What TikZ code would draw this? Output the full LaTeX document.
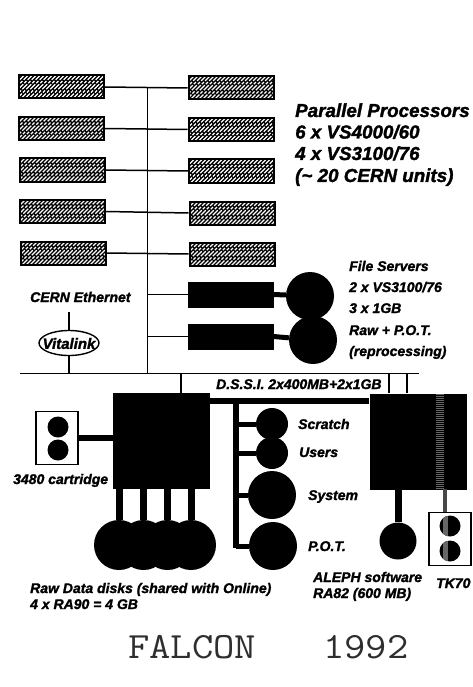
\documentclass[tikz,border=0pt]{standalone}
\usepackage{fontspec}
\usetikzlibrary{shapes.geometric}
\setmainfont{Liberation Sans}[BoldItalicFeatures={FakeBold=1.6}]
\begin{document}
\begin{tikzpicture}[x=1pt,y=-1pt,
  hbox/.style={draw=black,line width=2pt,fill=black,minimum width=85pt,minimum height=23pt,inner sep=0pt,
    path picture={
      \foreach \k in {-30,-26,...,110}{
        \draw[white,line width=1.25pt,dash pattern=on 7pt off 1.4pt on 3pt off 1.8pt] ([xshift=\k pt]path picture bounding box.south west) -- ++(30pt,30pt);
      }
    }},
  bbox/.style={fill=black,draw=black,inner sep=0pt,minimum width=85pt,minimum height=25pt},
  bigbox/.style={fill=black,inner sep=0pt,minimum width=97pt,minimum height=96pt},
  disk/.style={circle,fill=black,inner sep=0pt,minimum size=#1},
  tape/.style={draw=black,line width=1.2pt,fill=white,inner sep=0pt,minimum width=42pt,minimum height=53pt},
  cable/.style={line width=1.5pt,black},
  stub/.style={line width=5pt,black},
  heavy/.style={line width=6.5pt,black},
  greycable/.style={line width=4pt,black!72},
  lab/.style={anchor=base west,inner sep=0pt,text=black,font=\bfseries\itshape\fontsize{14}{14}\selectfont},
  labbig/.style={anchor=base west,inner sep=0pt,text=black,font=\bfseries\itshape\fontsize{18.8}{19}\selectfont},
  title/.style={anchor=base west,inner sep=0pt,text=black!82,xscale=1.12,font=\ttfamily\fontsize{37}{37}\selectfont}
]
\useasboundingbox (0,0) rectangle (472,687);
\fill[white] (0,0) rectangle (472,687);

% coordinates
\coordinate (busT) at (147.5,87);
\coordinate (lanW) at (20,373.5);
\coordinate (lanE) at (419,373.5);
\coordinate (ethTop) at (69,312);
\coordinate (dssiBot) at (236,548);
\coordinate (tapL) at (181,373.5);
\coordinate (tapR1) at (389,373.5);
\coordinate (tapR2) at (407,373.5);
\coordinate (dsT) at (236,401);
\coordinate (grT) at (445,489);
\coordinate (grB) at (440,489);

% processors
\node[hbox] (l1) at (61.5,87) {};
\node[hbox] (l2) at (61.5,128.5) {};
\node[hbox] (l3) at (62,170) {};
\node[hbox] (l4) at (62.5,211.5) {};
\node[hbox] (l5) at (63,253) {};
\node[hbox] (r1) at (231,88) {};
\node[hbox] (r2) at (231,129.5) {};
\node[hbox] (r3) at (231.5,171) {};
\node[hbox] (r4) at (232,213) {};
\node[hbox] (r5) at (232,254) {};
\node[bbox] (f1) at (231,294.5) {};
\node[bbox] (f2) at (231,336.5) {};

% file server disks
\node[disk=48pt] (d1) at (310,296) {};
\node[disk=48pt] (d2) at (313,340) {};

% Ethernet
\draw[cable] (busT) -- (busT |- lanW);
\draw[cable] (l1.east) -- (r1.west);
\draw[cable] (l2.east) -- (r2.west);
\draw[cable] (l3.east) -- (r3.west);
\draw[cable] (l4.east) -- (r4.west);
\draw[cable] (l5.east) -- (r5.west);
\draw[cable] (f1.west) -- (f1.west -| busT);
\draw[cable] (f2.west) -- (f2.west -| busT);
\draw[stub] (f1.east) -- (d1);
\draw[stub] (f2.east) -- (d2);
\draw[cable] (lanW) -- (lanE);

% Vitalink
\node[draw=black,line width=1.4pt,fill=white,ellipse,inner sep=0pt,minimum width=60pt,minimum height=25pt] (vit) at (69,343) {};
\node[inner sep=0pt,font=\bfseries\itshape\fontsize{15}{15}\selectfont] (vitt) at (69,343.5) {Vitalink};
\draw[cable] (ethTop) -- (vit.north);
\draw[cable] (vit.south) -- (vit.south |- lanW);

% main boxes
\node[bigbox] (vl) at (161.5,441) {};
\node[bigbox] (vr) at (418,441.5) {};
\draw[cable] (tapL) -- (tapL |- vl.north);
\draw[cable] (tapR1) -- (tapR1 |- vr.north);
\draw[cable] (tapR2) -- (tapR2 |- vr.north);

% D.S.S.I.
\draw[heavy] (dsT -| vl.east) -- (dsT -| vr.west);
\draw[heavy] (dsT) -- (dssiBot);

\node[disk=32pt] (scr) at (272,424) {};
\node[disk=32pt] (usr) at (272,453) {};
\node[disk=48pt] (sys) at (272,495) {};
\node[disk=48pt] (pot) at (273,546) {};
\draw[stub] (dsT |- scr) -- (scr);
\draw[stub] (dsT |- usr) -- (usr);
\draw[stub] (dsT |- sys) -- (sys);
\draw[stub] (dsT |- pot) -- (pot);

% 3480
\node[tape] (ct) at (57,438) {};
\node[disk=21pt] (c1) at (58,427) {};
\node[disk=21pt] (c2) at (58,450) {};
\draw[heavy] (ct.east) -- (ct.east -| vl.west);

% raw disks
\node[disk=50pt] (w1) at (119,545) {};
\node[disk=50pt] (w2) at (143.5,545) {};
\node[disk=50pt] (w3) at (167.5,545) {};
\node[disk=50pt] (w4) at (191,545) {};
\draw[line width=7pt] (w1) -- (w1 |- vl.south);
\draw[line width=7pt] (w2) -- (w2 |- vl.south);
\draw[line width=7pt] (w3) -- (w3 |- vl.south);
\draw[line width=7pt] (w4) -- (w4 |- vl.south);

% ALEPH and TK70
\node[disk=37pt] (al) at (398,541) {};
\draw[line width=7pt] (al) -- (al |- vr.south);
\node[tape] (tk) at (450,539) {};
\draw[greycable] (grT) -- (grT |- tk.north);
\draw[line width=8pt,black!60,dash pattern=on 1pt off 1pt] (grB) -- (grB |- vr.north);
\node[disk=21pt,path picture={\fill[black!60] ([xshift=3pt]path picture bounding box.south west) rectangle ([xshift=8pt]path picture bounding box.north west);}] (t1) at (450,526) {};
\node[disk=21pt,path picture={\fill[black!60] ([xshift=3pt]path picture bounding box.south west) rectangle ([xshift=8pt]path picture bounding box.north west);}] (t2) at (450,551) {};

% labels
\node[lab] (tEth) at (30,302) {CERN Ethernet};
\node[labbig] (p1) at (295,117) {Parallel Processors};
\node[labbig] (p2) at (295,138.5) {6 x VS4000/60};
\node[labbig] (p3) at (295,160) {4 x VS3100/76};
\node[labbig] (p4) at (295,182) {(\textasciitilde{} 20 CERN units)};
\node[lab] (s1) at (349,271) {File Servers};
\node[lab] (s2) at (349,292) {2 x VS3100/76};
\node[lab] (s3) at (349,313) {3 x 1GB};
\node[lab] (s4) at (349,335) {Raw + P.O.T.};
\node[lab] (s5) at (349,356) {(reprocessing)};
\node[lab] (tDs) at (216,389) {D.S.S.I. 2x400MB+2x1GB};
\node[lab] (tScr) at (298,429) {Scratch};
\node[lab] (tUsr) at (299,457) {Users};
\node[lab] (tSys) at (308,500) {System};
\node[lab] (tPot) at (308,551) {P.O.T.};
\node[lab] (tCt) at (13,484) {3480 cartridge};
\node[lab] (tR1) at (30,593) {Raw Data disks (shared with Online)};
\node[lab] (tR2) at (30,609) {4 x RA90 = 4 GB};
\node[lab] (tA1) at (313,582) {ALEPH software};
\node[lab] (tA2) at (313,598) {RA82 (600 MB)};
\node[lab] (tTk) at (436,588) {TK70};
\node[title] (tF) at (128,658) {FALCON};
\node[title] (tY) at (323,658) {1992};
\end{tikzpicture}
\end{document}
